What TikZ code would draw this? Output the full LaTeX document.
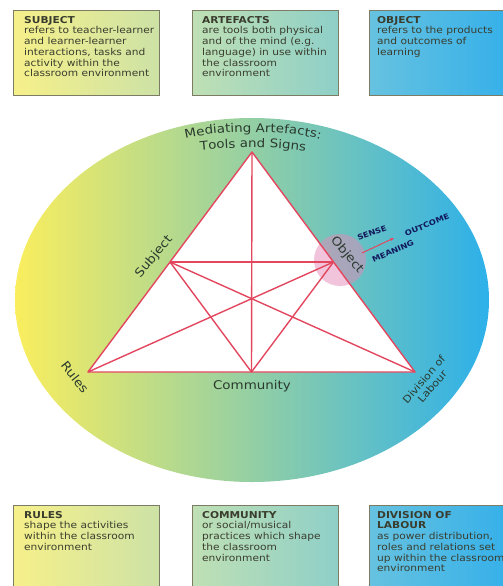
\documentclass[tikz,border=0pt]{standalone}
\usepackage{fontspec}
\setmainfont{DejaVu Sans}[FakeStretch=1.12]
\usetikzlibrary{arrows.meta,decorations.text}
\definecolor{ellyellow}{HTML}{FAEE5E}
\definecolor{ellgreen}{HTML}{A8DABD}
\definecolor{ellblue}{HTML}{2DB0EA}
\definecolor{trired}{HTML}{E3475F}
\definecolor{pinkspot}{HTML}{E48AB8}
\definecolor{labelink}{HTML}{2B3A2E}
\definecolor{boxink}{HTML}{3A3D2E}
\definecolor{boxline}{HTML}{7C7C64}
\definecolor{yelleft}{HTML}{F6F08A}
\definecolor{yelright}{HTML}{CDE2A6}
\definecolor{grnleft}{HTML}{BFE0B4}
\definecolor{grnright}{HTML}{8ECFC8}
\definecolor{bluleft}{HTML}{66C2E0}
\definecolor{bluright}{HTML}{33AFEA}
\tikzset{
  infobox/.style={draw=boxline, line width=0.8pt, anchor=north west, inner sep=0pt,
    minimum width=146pt},
  boxtext/.style={anchor=north west, align=left, inner sep=0pt, text=boxink,
    font=\fontsize{9.5}{10.7}\selectfont},
  corner/.style={text=labelink, inner sep=0pt, font=\fontsize{12}{13}\selectfont},
  tiny/.style={text=labelink!60!blue!70!black, inner sep=0pt, font=\bfseries\fontsize{7.5}{8}\selectfont},
  tri/.style={draw=trired, line width=1.4pt, line join=round},
}
\begin{document}
\begin{tikzpicture}[x=1pt,y=-1pt]
  \useasboundingbox (0,0) rectangle (503,586);
  \shade[left color=ellyellow, middle color=ellgreen, right color=ellblue]
    (252,300) ellipse [x radius=237pt, y radius=182pt];

  \coordinate (art) at (252,152);
  \coordinate (rul) at (88,372);
  \coordinate (dol) at (415,372);
  \coordinate (sub) at (170,262);
  \coordinate (obj) at (333.5,262);
  \coordinate (com) at (251.5,372);

  \fill[white] (art) -- (rul) -- (dol) -- cycle;
  \fill[pinkspot, opacity=.5] (340,260) circle [radius=26pt];
  \begin{scope}[tri]
    \draw (art) -- (rul) -- (dol) -- cycle;
    \draw (art) to (com);
    \draw (sub) to (obj);
    \draw (sub) to (com);
    \draw (obj) to (com);
    \draw (sub) to (dol);
    \draw (obj) to (rul);
  \end{scope}

  \path[decorate, decoration={text along path, text align=center,
      text={|\fontsize{12}{13}\selectfont\color{labelink}|Mediating Artefacts:}}]
    (176,141) .. controls (215,129) and (290,129) .. (330,142);
  \path[decorate, decoration={text along path, text align=center,
      text={|\fontsize{12}{13}\selectfont\color{labelink}|Tools and Signs}}]
    (188,152) .. controls (225,146) and (280,146) .. (318,153);

  \node[corner, rotate=50] (subjlabel) at (154,257) {Subject};
  \node[corner, rotate=-52] (ruleslabel) at (75,377) {Rules};
  \node[corner] (comlabel) at (252,386) {Community};
  \node[corner, rotate=-50] (objlabel) at (347,255) {Object};
  \node[corner, rotate=49, align=center, font=\fontsize{10}{11}\selectfont]
    (dollabel) at (428,383) {Division of\\Labour};

  \coordinate (arrtail) at (362,253);
  \coordinate (arrhead) at (394,238);
  \draw[trired, line width=1pt, -{Stealth[length=4pt]}] (arrtail) -- (arrhead);
  \node[tiny, rotate=20] (senselabel) at (372,233) {SENSE};
  \node[tiny, rotate=22] (outlabel) at (427,225) {OUTCOME};
  \node[tiny, rotate=24] (meanlabel) at (393,251) {MEANING};

  \node[infobox, minimum height=85pt, left color=yelleft, right color=yelright]
    (subjbox) at (13,10) {};
  \node[infobox, minimum height=85pt, left color=grnleft, right color=grnright]
    (artbox) at (192,10) {};
  \node[infobox, minimum height=85pt, left color=bluleft, right color=bluright]
    (objbox) at (369,10) {};
  \node[infobox, minimum height=100pt, left color=yelleft, right color=yelright]
    (rulbox) at (13,505) {};
  \node[infobox, minimum height=100pt, left color=grnleft, right color=grnright]
    (combox) at (192,505) {};
  \node[infobox, minimum height=100pt, left color=bluleft, right color=bluright]
    (dolbox) at (369,505) {};

  \node[boxtext] (subjtext) at ([xshift=11pt, yshift=-6pt]subjbox.north west)
    {\textbf{SUBJECT}\\refers to teacher-learner\\and learner-learner\\interactions, tasks and\\activity within the\\classroom environment};
  \node[boxtext] (arttext) at ([xshift=10pt, yshift=-6pt]artbox.north west)
    {\textbf{ARTEFACTS}\\are tools both physical\\and of the mind (e.g.\\language) in use within\\the classroom\\environment};
  \node[boxtext] (objtext) at ([xshift=8pt, yshift=-6pt]objbox.north west)
    {\textbf{OBJECT}\\refers to the products\\and outcomes of\\learning};
  \node[boxtext] (rultext) at ([xshift=11pt, yshift=-6pt]rulbox.north west)
    {\textbf{RULES}\\shape the activities\\within the classroom\\environment};
  \node[boxtext] (comtext) at ([xshift=10pt, yshift=-6pt]combox.north west)
    {\textbf{COMMUNITY}\\or social/musical\\practices which shape\\the classroom\\environment};
  \node[boxtext] (doltext) at ([xshift=8pt, yshift=-6pt]dolbox.north west)
    {\textbf{DIVISION OF}\\\textbf{LABOUR}\\as power distribution,\\roles and relations set\\up within the classroom\\environment};
\end{tikzpicture}
\end{document}
